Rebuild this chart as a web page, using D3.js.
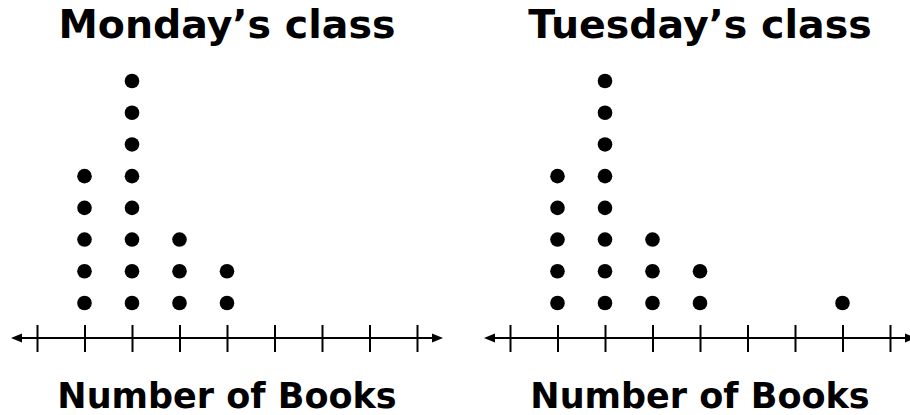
<!DOCTYPE html>
<html>
<head>
<meta charset="utf-8">
<script src="https://cdn.jsdelivr.net/npm/d3@7"></script>
<style>
  html, body { margin: 0; padding: 0; background: #fff; }
  svg { display: block; }
</style>
</head>
<body>
<svg id="chart" width="910" height="415"></svg>
<script>
/* ---------- data ---------------------------------------------- */
const bookValues    = [0, 1, 2, 3, 4, 5, 6, 7, 8];
const mondayCounts  = [0, 5, 8, 3, 2, 0, 0, 0, 0];
const tuesdayCounts = [0, 5, 8, 3, 2, 0, 0, 1, 0];
const panelTitles   = ["Monday’s class", "Tuesday’s class"];
const axisLabel     = "Number of Books";

const svg = d3.select("#chart");
const ink = "#000";
const font = "'DejaVu Sans', Verdana, sans-serif";

const panels = [
  {title: panelTitles[0], counts: mondayCounts,  x0: 37,  x1: 417},
  {title: panelTitles[1], counts: tuesdayCounts, x0: 510, x1: 890}
];

/* stack height scale (row 1 sits just above the line) */
const yScale = d3.scaleLinear().domain([1, 8]).range([303, 81]);
const axisY  = 338;

panels.forEach(p => {
  const g = svg.append("g");
  const x = d3.scaleLinear()
      .domain([bookValues[0], bookValues[bookValues.length - 1]])
      .range([p.x0, p.x1]);
  const cx = (p.x0 + p.x1) / 2;

  /* ---------- title ------------------------------------------- */
  g.append("text")
    .attr("x", cx).attr("y", 38)
    .attr("text-anchor", "middle")
    .attr("font-family", font).attr("font-weight", "bold")
    .attr("font-size", 39.5)
    .attr("fill", ink)
    .text(p.title);

  /* ---------- number line ------------------------------------- */
  const ext = 26;
  const lx0 = x.range()[0] - ext, lx1 = x.range()[1] + ext;
  g.append("line")
    .attr("x1", lx0 + 6).attr("x2", lx1 - 6)
    .attr("y1", axisY).attr("y2", axisY)
    .attr("stroke", ink).attr("stroke-width", 2);
  g.append("path")
    .attr("d", `M${lx0},${axisY} l11,-4.5 l0,9 Z`)
    .attr("fill", ink);
  g.append("path")
    .attr("d", `M${lx1},${axisY} l-11,-4.5 l0,9 Z`)
    .attr("fill", ink);

  g.append("g")
    .attr("transform", `translate(0,${axisY})`)
    .call(d3.axisBottom(x).tickValues(bookValues).tickSize(0).tickFormat(""))
    .call(a => a.select(".domain").remove())
    .selectAll(".tick").append("line")
      .attr("y1", -13).attr("y2", 14)
      .attr("stroke", ink).attr("stroke-width", 2);

  /* ---------- dots -------------------------------------------- */
  const dots = [];
  bookValues.forEach((v, i) => {
    for (let k = 1; k <= p.counts[i]; k++) dots.push({value: v, level: k});
  });
  g.selectAll("circle")
    .data(dots)
    .enter().append("circle")
      .attr("cx", d => x(d.value))
      .attr("cy", d => yScale(d.level))
      .attr("r", 7.3)
      .attr("fill", ink);

  /* ---------- axis label -------------------------------------- */
  g.append("text")
    .attr("x", cx).attr("y", 408)
    .attr("text-anchor", "middle")
    .attr("font-family", font).attr("font-weight", "bold")
    .attr("font-size", 35)
    .attr("fill", ink)
    .text(axisLabel);
});
</script>
</body>
</html>
